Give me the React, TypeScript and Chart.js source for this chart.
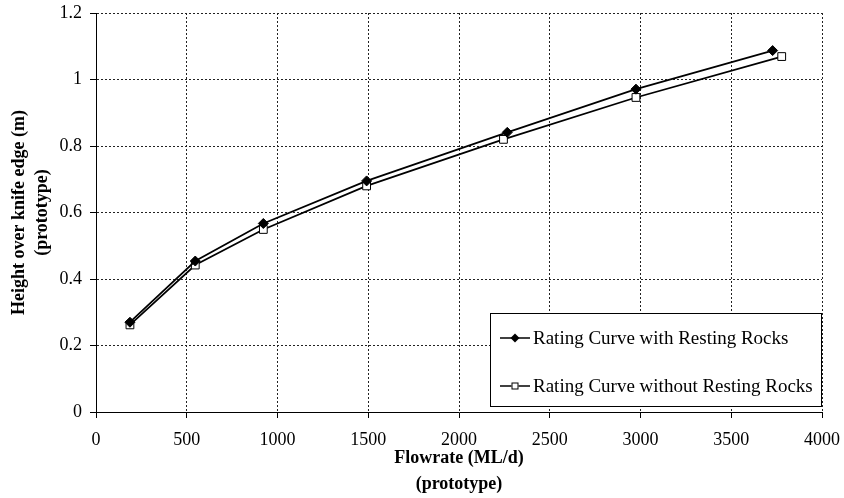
import React, { useEffect, useRef } from 'react';
import { Chart, registerables } from 'chart.js';

Chart.register(...registerables);

// ---- data ----
const flowWith = [187, 547, 922, 1491, 2266, 2975, 3728];
const heightWith = [0.27, 0.454, 0.567, 0.695, 0.841, 0.971, 1.087];
const flowWithout = [187, 547, 922, 1491, 2245, 2975, 3778];
const heightWithout = [0.262, 0.442, 0.549, 0.68, 0.82, 0.946, 1.069];
const seriesLabels = ['Rating Curve with Resting Rocks', 'Rating Curve without Resting Rocks'];
const xTitle = ['Flowrate (ML/d)', '(prototype)'];
const yTitle = ['Height over knife edge (m)', '(prototype)'];
const xRange = [0, 4000];
const xStep = 500;
const yRange = [0, 1.2];
const yStep = 0.2;

const FONT = "'Liberation Serif', 'Times New Roman', serif";

const boxLegend = {
  id: 'boxLegend',
  afterDraw(chart: any) {
    const { ctx, chartArea } = chart;
    const w = 332;
    const h = 94;
    const x0 = chartArea.right - w;
    const y0 = chartArea.bottom - 5 - h;
    ctx.save();
    ctx.setLineDash([]);
    ctx.fillStyle = '#fff';
    ctx.fillRect(x0, y0, w, h);
    ctx.strokeStyle = '#000';
    ctx.lineWidth = 1;
    ctx.strokeRect(x0 + 0.5, y0 + 0.5, w - 1, h - 1);
    chart.data.datasets.forEach((ds: any, i: number) => {
      const cy = y0 + 25 + i * 48;
      const lx0 = x0 + 10;
      const lx1 = x0 + 40;
      const mx = (lx0 + lx1) / 2;
      ctx.strokeStyle = '#000';
      ctx.lineWidth = 1.5;
      ctx.beginPath();
      ctx.moveTo(lx0, cy);
      ctx.lineTo(lx1, cy);
      ctx.stroke();
      ctx.lineWidth = 1;
      if (ds.pointStyle === 'rectRot') {
        const r = 4.5;
        ctx.fillStyle = '#000';
        ctx.beginPath();
        ctx.moveTo(mx, cy - r);
        ctx.lineTo(mx + r, cy);
        ctx.lineTo(mx, cy + r);
        ctx.lineTo(mx - r, cy);
        ctx.closePath();
        ctx.fill();
      } else {
        const s = 3.5;
        ctx.fillStyle = '#fff';
        ctx.fillRect(mx - s, cy - s, 2 * s, 2 * s);
        ctx.strokeRect(mx - s + 0.5, cy - s + 0.5, 2 * s - 1, 2 * s - 1);
      }
      ctx.fillStyle = '#000';
      ctx.font = `19px ${FONT}`;
      ctx.textAlign = 'left';
      ctx.textBaseline = 'middle';
      ctx.fillText(ds.label, lx1 + 3, cy + 1);
    });
    ctx.restore();
  },
};

export default function App() {
  const canvasRef = useRef<HTMLCanvasElement | null>(null);

  useEffect(() => {
    if (!canvasRef.current) return;
    const chart = new Chart(canvasRef.current, {
      type: 'scatter',
      data: {
        datasets: [
          {
            label: seriesLabels[0],
            data: flowWith.map((x, i) => ({ x, y: heightWith[i] })),
            showLine: true,
            borderColor: '#000',
            borderWidth: 1.7,
            backgroundColor: '#000',
            pointStyle: 'rectRot',
            pointRadius: 5,
            pointBorderWidth: 1,
            pointBorderColor: '#000',
            pointBackgroundColor: '#000',
          },
          {
            label: seriesLabels[1],
            data: flowWithout.map((x, i) => ({ x, y: heightWithout[i] })),
            showLine: true,
            borderColor: '#000',
            borderWidth: 1.7,
            backgroundColor: '#fff',
            pointStyle: 'rect',
            pointRadius: 5.5,
            pointBorderWidth: 1,
            pointBorderColor: '#000',
            pointBackgroundColor: '#fff',
          },
        ],
      },
      options: {
        animation: false,
        responsive: true,
        maintainAspectRatio: false,
        layout: { padding: { left: 0, top: 13, right: 22, bottom: 0 } },
        plugins: {
          legend: { display: false },
          tooltip: { enabled: false },
        },
        scales: {
          x: {
            type: 'linear',
            min: xRange[0],
            max: xRange[1],
            ticks: {
              stepSize: xStep,
              color: '#000',
              font: { family: FONT, size: 18 },
              padding: 11,
              maxRotation: 0,
              callback: (v: any) => String(v),
            },
            grid: {
              color: '#222',
              lineWidth: 1,
              drawTicks: true,
              tickLength: 6,
              tickColor: '#000',
            },
            border: { display: true, color: '#000', width: 1, dash: [2, 2] },
            title: {
              display: true,
              text: xTitle,
              color: '#000',
              font: { family: FONT, size: 18, weight: 'bold', lineHeight: 1.44 },
              padding: { top: 0, bottom: 1 },
            },
            afterFit: (scale: any) => {
              scale.height = 86;
              scale.paddingLeft = 0;
              scale.paddingRight = 0;
            },
          },
          y: {
            type: 'linear',
            min: yRange[0],
            max: yRange[1],
            ticks: {
              stepSize: yStep,
              color: '#000',
              font: { family: FONT, size: 18 },
              padding: 8,
              callback: (v: any) => String(Number(Number(v).toFixed(2))),
            },
            grid: {
              color: '#222',
              lineWidth: 1,
              drawTicks: true,
              tickLength: 6,
              tickColor: '#000',
            },
            border: { display: true, color: '#000', width: 1, dash: [2, 2] },
            title: {
              display: true,
              text: yTitle,
              color: '#000',
              font: { family: FONT, size: 18, weight: 'bold', lineHeight: 1.28 },
              padding: { top: 7.5, bottom: 0 },
            },
            afterFit: (scale: any) => {
              scale.width = 96;
              scale.paddingTop = 0;
              scale.paddingBottom = 0;
            },
          },
        },
      },
      plugins: [boxLegend],
    } as any);
    return () => chart.destroy();
  }, []);

  return (
    <div style={{ position: 'absolute', left: 0, top: 0, width: 844, height: 498, background: '#fff' }}>
      <canvas ref={canvasRef} />
    </div>
  );
}
